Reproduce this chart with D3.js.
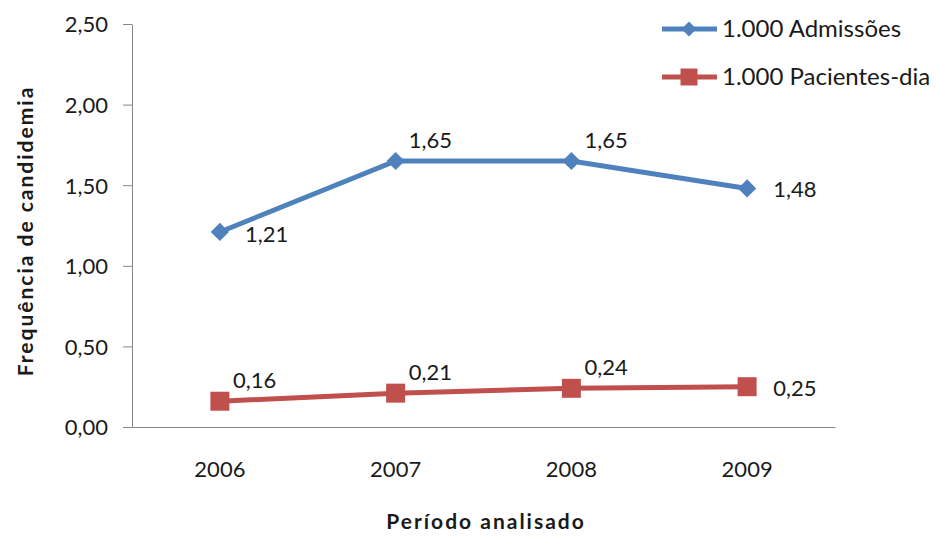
<!DOCTYPE html>
<html><head><meta charset="utf-8">
<script src="https://cdn.jsdelivr.net/npm/d3@7"></script>
<style>body{margin:0;background:#fff;} text{font-family:Lato,"Open Sans",sans-serif;fill:#1a1a1a;}</style>
</head><body><svg id="c" width="936" height="536"></svg>
<script>
const years = ["2006","2007","2008","2009"];
const admissoes = [1.21,1.65,1.65,1.48];
const pacientesDia = [0.16,0.21,0.24,0.25];
const yTicks = [0,0.5,1,1.5,2,2.5];
const seriesNames = ["1.000 Admissões","1.000 Pacientes-dia"];
const admLabelPos = ["br","ar","ar","r"];
const pacLabelPos = ["ar","ar","ar","r"];

const svg = d3.select("#c");
const pLeft=132,pRight=835,pTop=24,pBottom=427;
const x = d3.scaleBand().domain(years).range([pLeft,pRight]);
const y = d3.scaleLinear().domain([0,2.5]).range([pBottom,pTop]);
const fmt = v => d3.format(".2f")(v).replace(".",",");

// y axis
const ya = svg.append("g").attr("transform",`translate(${pLeft},0)`)
  .call(d3.axisLeft(y).tickValues(yTicks).tickFormat(fmt).tickSize(9).tickSizeOuter(0));
ya.select(".domain").attr("stroke","#878787");
ya.selectAll(".tick line").attr("stroke","#878787");
ya.selectAll(".tick text").attr("font-size",22).attr("x",-24).attr("dy","0.36em").attr("font-family","Lato");
// x axis
const xa = svg.append("g").attr("transform",`translate(0,${pBottom})`)
  .call(d3.axisBottom(x).tickSize(0).tickSizeOuter(0));
xa.select(".domain").attr("stroke","#878787");
xa.selectAll(".tick text").attr("font-size",22).attr("dy","0").attr("y",50).attr("font-family","Lato");

svg.append("text").attr("transform","translate(33,231) rotate(-90)").attr("text-anchor","middle")
  .attr("font-size",21).attr("font-weight","bold").attr("letter-spacing",2).text("Frequência de candidemia");
svg.append("text").attr("x",486).attr("y",529).attr("text-anchor","middle")
  .attr("font-size",21).attr("font-weight","bold").attr("letter-spacing",2).text("Período analisado");

const cx = d => x(d)+x.bandwidth()/2;
const line = d3.line().x((d,i)=>cx(years[i])).y(d=>y(d));
const diamond = d3.symbol().type(d3.symbolDiamond2).size(210);
const square = d3.symbol().type(d3.symbolSquare).size(361);

function drawSeries(vals,color,sym,pos){
  svg.append("path").datum(vals).attr("d",line).attr("fill","none").attr("stroke",color).attr("stroke-width",5);
  svg.selectAll(null).data(vals).enter().append("path")
    .attr("transform",(d,i)=>`translate(${cx(years[i])},${y(d)})`).attr("d",sym).attr("fill",color);
  svg.selectAll(null).data(vals).enter().append("text")
    .attr("font-size",22)
    .attr("x",(d,i)=>cx(years[i])+(pos[i]==="r"?26:pos[i]==="br"?25:13))
    .attr("y",(d,i)=>y(d)+(pos[i]==="r"?9:pos[i]==="br"?10:-13))
    .text(d=>fmt(d));
}
drawSeries(admissoes,"#4F81BD",diamond,admLabelPos);
drawSeries(pacientesDia,"#C0504D",square,pacLabelPos);

// legend
const legDiamond = d3.symbol().type(d3.symbolDiamond2).size(140);
const legSquare = d3.symbol().type(d3.symbolSquare).size(289);
const leg=[{n:seriesNames[0],c:"#4F81BD",s:legDiamond,y:29},{n:seriesNames[1],c:"#C0504D",s:legSquare,y:77}];
leg.forEach(l=>{
  svg.append("line").attr("x1",662).attr("x2",717).attr("y1",l.y).attr("y2",l.y).attr("stroke",l.c).attr("stroke-width",5);
  svg.append("path").attr("transform",`translate(689,${l.y})`).attr("d",l.s).attr("fill",l.c);
  svg.append("text").attr("x",722).attr("y",l.y+8).attr("font-size",24).text(l.n);
});
</script></body></html>
